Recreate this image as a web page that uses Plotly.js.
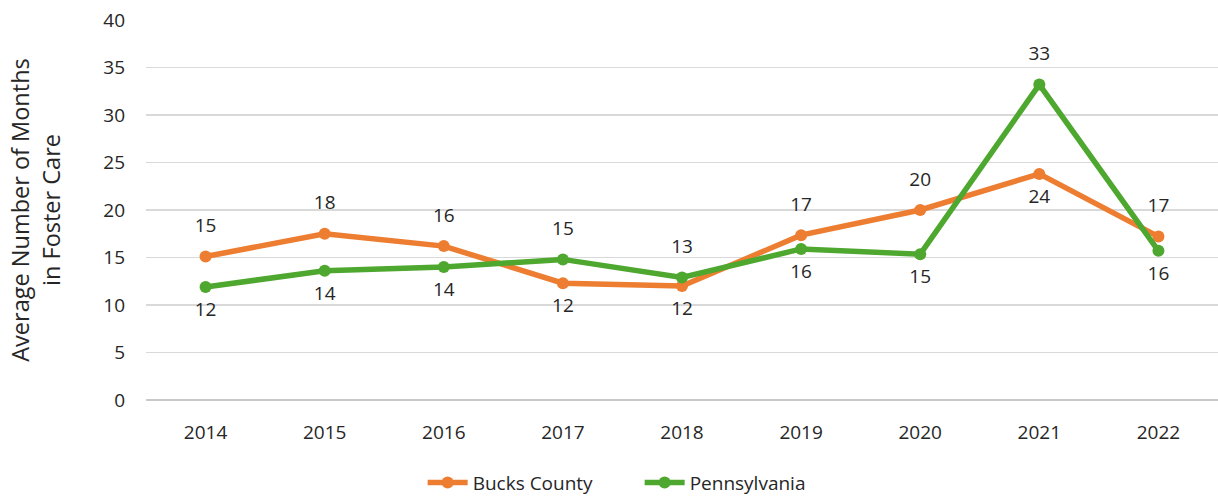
<!DOCTYPE html>
<html>
<head>
<meta charset="utf-8">
<script src="https://cdn.plot.ly/plotly-3.0.1.min.js"></script>
<style>html,body{margin:0;padding:0;background:#fff;}#chart{width:1218px;height:496px;}</style>
</head>
<body>
<div id="chart"></div>
<script>
const years = ['2014','2015','2016','2017','2018','2019','2020','2021','2022'];
const bucksCounty = [15.1, 17.5, 16.2, 12.3, 12.0, 17.35, 20.0, 23.8, 17.2];
const pennsylvania = [11.9, 13.6, 14.0, 14.8, 12.9, 15.9, 15.35, 33.2, 15.7];
const bucksLabelPos = ['above','above','above','below','below','above','above','below','above'];
const paLabelPos = ['below','below','below','above','above','below','below','above','below'];

const ORANGE = '#ED7D31';
const GREEN = '#4EA72E';
const TXT = '#262626';
const FONT = 'Open Sans, Lato, sans-serif';

function labelTraces(vals, pos) {
  const out = [];
  ['above', 'below'].forEach(side => {
    const xs = [], ys = [], ts = [];
    vals.forEach((v, i) => {
      if (pos[i] === side) { xs.push(years[i]); ys.push(v); ts.push(String(Math.round(v))); }
    });
    out.push({x: xs, y: ys, text: ts, type: 'scatter', mode: 'markers+text',
      textposition: side === 'above' ? 'top center' : 'bottom center',
      marker: {size: side === 'above' ? 30 : 22, opacity: 0, color: '#fff'},
      textfont: {family: FONT, size: 19, color: TXT},
      showlegend: false, hoverinfo: 'skip', cliponaxis: false});
  });
  return out;
}

const traces = [
  {x: years, y: bucksCounty, name: 'Bucks County', type: 'scatter', mode: 'lines+markers',
   line: {color: ORANGE, width: 5.5}, marker: {color: ORANGE, size: 12}},
  {x: years, y: pennsylvania, name: 'Pennsylvania', type: 'scatter', mode: 'lines+markers',
   line: {color: GREEN, width: 5.5}, marker: {color: GREEN, size: 12}}
].concat(labelTraces(bucksCounty, bucksLabelPos), labelTraces(pennsylvania, paLabelPos));

const layout = {
  width: 1218, height: 496,
  margin: {l: 146, r: 0, t: 20, b: 96, autoexpand: false},
  paper_bgcolor: '#fff', plot_bgcolor: '#fff',
  font: {family: FONT, size: 19, color: TXT},
  xaxis: {type: 'category', range: [-0.5, 8.5], showgrid: false, zeroline: false,
    showline: false, ticks: '', ticklabelstandoff: 19, tickfont: {size: 19, color: TXT}, automargin: false},
  yaxis: {range: [0, 40], dtick: 5, showgrid: true, gridcolor: '#d9d9d9', gridwidth: 1.5,
    zeroline: true, zerolinecolor: '#c8c8c8', zerolinewidth: 1.5, ticks: '',
    ticklabelstandoff: 20, tickfont: {size: 19, color: TXT}, automargin: false,
    title: {text: 'Average Number of Months<br>in Foster Care', standoff: 36,
      font: {size: 23.5, color: TXT}}},
  legend: {orientation: 'h', x: 0.347, xanchor: 'left', xref: 'container',
    y: 0.027, yanchor: 'middle', yref: 'container', entrywidth: 162, entrywidthmode: 'pixels',
    font: {size: 19, color: TXT}, itemwidth: 40},
  showlegend: true
};

Plotly.newPlot('chart', traces, layout, {displayModeBar: false, staticPlot: true});
</script>
</body>
</html>
